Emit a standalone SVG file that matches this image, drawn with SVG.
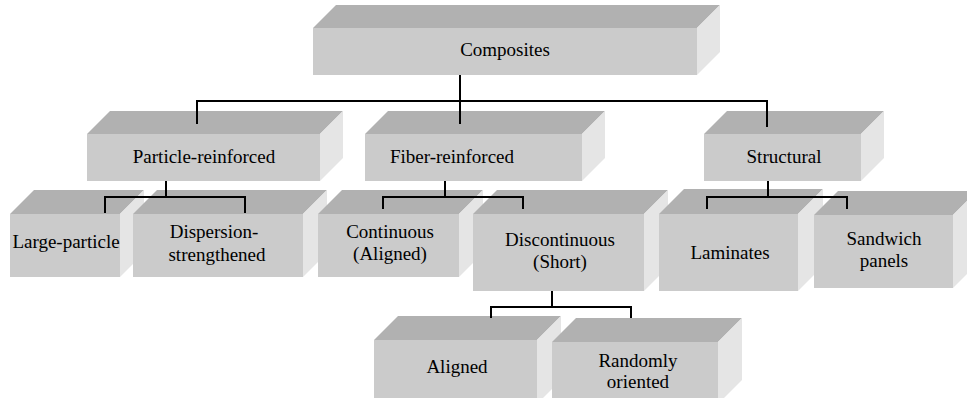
<svg xmlns="http://www.w3.org/2000/svg" width="967" height="398" viewBox="0 0 967 398">
<style>
.front{fill:#cbcbcb}
.top{fill:#b1b1b1}
.side{fill:#e5e5e5}
.t{font-family:'Liberation Serif','Times New Roman',serif;font-size:19px;fill:#000;text-anchor:middle}
.conn{fill:none;stroke:#000;stroke-width:2}
</style>
<rect width="967" height="398" fill="#fff"/>
<g id="composites">
<polygon class="top" points="313,28 336,5 720,5 697,28"/>
<polygon class="side" points="697,28 720,5 720,52 697,75"/>
<rect class="front" x="313" y="28" width="384" height="47"/>
<text class="t" x="505" y="56">Composites</text>
</g>
<g id="particle-reinforced">
<polygon class="top" points="87,134 110,111 343,111 320,134"/>
<polygon class="side" points="320,134 343,111 343,158 320,181"/>
<rect class="front" x="87" y="134" width="233" height="47"/>
<text class="t" x="204" y="163">Particle-reinforced</text>
</g>
<g id="fiber-reinforced">
<polygon class="top" points="365,134 388,111 605,111 582,134"/>
<polygon class="side" points="582,134 605,111 605,158 582,181"/>
<rect class="front" x="365" y="134" width="217" height="47"/>
<text class="t" x="452" y="163">Fiber-reinforced</text>
</g>
<g id="structural">
<polygon class="top" points="704,134 727,111 884,111 861,134"/>
<polygon class="side" points="861,134 884,111 884,158 861,181"/>
<rect class="front" x="704" y="134" width="157" height="47"/>
<text class="t" x="784" y="163">Structural</text>
</g>
<g id="large-particle">
<polygon class="top" points="10,214 34,190 144,190 120,214"/>
<polygon class="side" points="120,214 144,190 144,253 120,277"/>
<rect class="front" x="10" y="214" width="110" height="63"/>
<text class="t" x="66" y="248">Large-particle</text>
</g>
<g id="dispersion-strengthened">
<polygon class="top" points="133,214 157,190 327,190 303,214"/>
<polygon class="side" points="303,214 327,190 327,253 303,277"/>
<rect class="front" x="133" y="214" width="170" height="63"/>
<text class="t" x="214" y="238">Dispersion-</text>
<text class="t" x="217" y="261">strengthened</text>
</g>
<g id="continuous">
<polygon class="top" points="318,214 342,190 483,190 459,214"/>
<polygon class="side" points="459,214 483,190 483,253 459,277"/>
<rect class="front" x="318" y="214" width="141" height="63"/>
<text class="t" x="390" y="238">Continuous</text>
<text class="t" x="390" y="260">(Aligned)</text>
</g>
<g id="discontinuous">
<polygon class="top" points="473,214 497,190 668,190 644,214"/>
<polygon class="side" points="644,214 668,190 668,267 644,291"/>
<rect class="front" x="473" y="214" width="171" height="77"/>
<text class="t" x="560" y="246">Discontinuous</text>
<text class="t" x="560" y="268">(Short)</text>
</g>
<g id="laminates">
<polygon class="top" points="659,214 684,189 823,189 798,214"/>
<polygon class="side" points="798,214 823,189 823,266 798,291"/>
<rect class="front" x="659" y="214" width="139" height="77"/>
<text class="t" x="730" y="259">Laminates</text>
</g>
<g id="sandwich-panels">
<polygon class="top" points="814,215 838,191 977,191 953,215"/>
<polygon class="side" points="953,215 977,191 977,264 953,288"/>
<rect class="front" x="814" y="215" width="139" height="73"/>
<text class="t" x="884" y="245">Sandwich</text>
<text class="t" x="884" y="267">panels</text>
</g>
<g id="aligned">
<polygon class="top" points="374,340 398,316 561,316 537,340"/>
<polygon class="side" points="537,340 561,316 561,380 537,404"/>
<rect class="front" x="374" y="340" width="163" height="64"/>
<text class="t" x="457" y="373">Aligned</text>
</g>
<g id="randomly-oriented">
<polygon class="top" points="552,342 576,318 742,318 718,342"/>
<polygon class="side" points="718,342 742,318 742,380 718,404"/>
<rect class="front" x="552" y="342" width="166" height="62"/>
<text class="t" x="638" y="367">Randomly</text>
<text class="t" x="638" y="388">oriented</text>
</g>
<g id="connectors">
<path class="conn" d="M460,75 V124 M197,124 V101 H767 V127"/>
<path class="conn" d="M166,181 V197 M105,213 V197 H245 V213"/>
<path class="conn" d="M445,181 V197 M383,209 V197 H523 V209"/>
<path class="conn" d="M768,181 V197 M707,209 V197 H847 V209"/>
<path class="conn" d="M552,291 V307 M491,318 V307 H631 V318"/>
</g>
</svg>
